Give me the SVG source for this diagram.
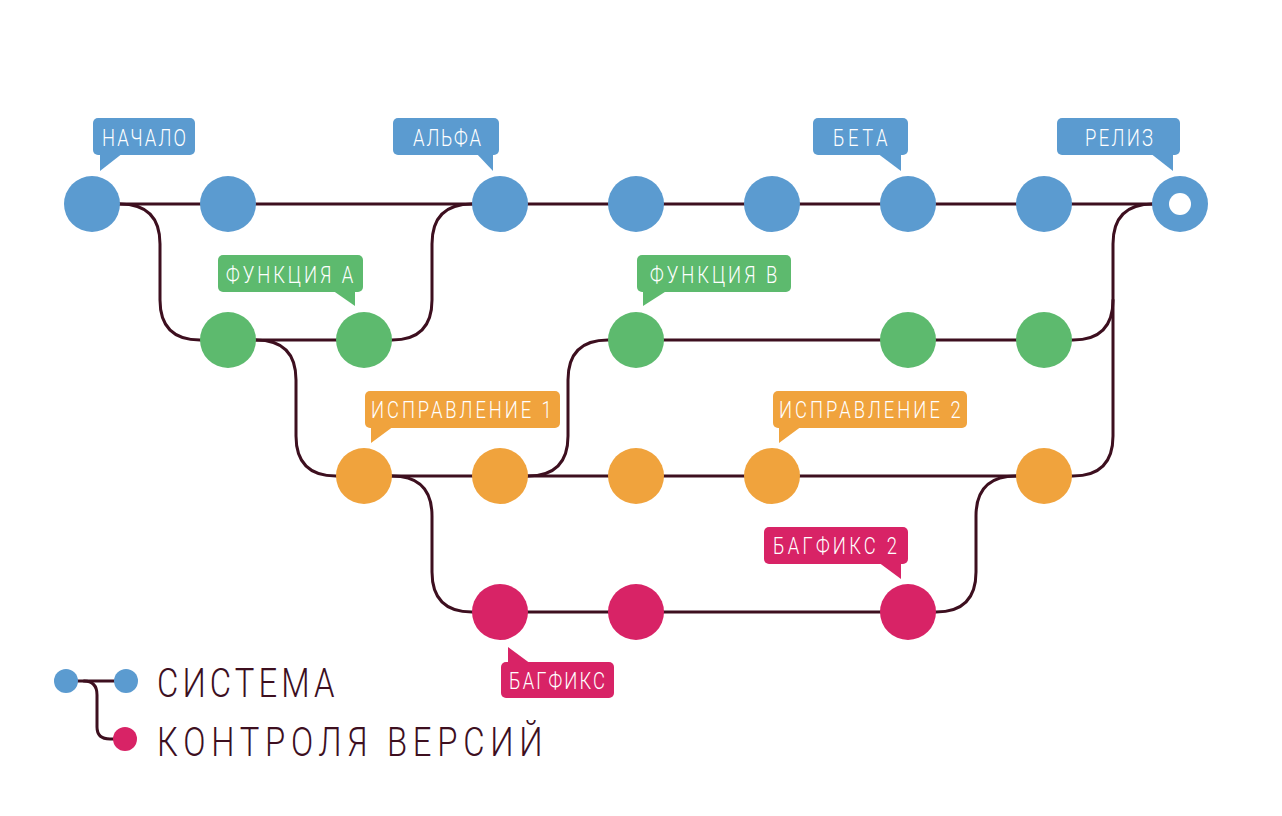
<svg xmlns="http://www.w3.org/2000/svg" width="1282" height="816" viewBox="0 0 1282 816">
<style>
.ln{fill:none;stroke:#3d0f1f;stroke-width:3;stroke-linecap:round}
.b{fill:#5b9bd0}.g{fill:#5dba6e}.o{fill:#f0a33d}.p{fill:#d82366}
.t{font-family:Roboto,"Liberation Sans",sans-serif;font-weight:300;font-size:23px;fill:#ffffff}
.lg{font-family:Roboto,"Liberation Sans",sans-serif;font-weight:300;font-size:41px;fill:#3d0f1f}
</style>
<rect width="1282" height="816" fill="#ffffff"/>
<g id="connectors">
<path class="ln" d="M92,204 H1180"/>
<path class="ln" d="M92,204 H120 Q160,204 160,244 V300 Q160,340 200,340 H364"/>
<path class="ln" d="M364,340 H392 Q432,340 432,300 V244 Q432,204 472,204"/>
<path class="ln" d="M228,340 H256 Q296,340 296,380 V436 Q296,476 336,476 H1044"/>
<path class="ln" d="M364,476 H392 Q432,476 432,516 V572 Q432,612 472,612 H908"/>
<path class="ln" d="M500,476 H528 Q568,476 568,436 V380 Q568,340 608,340 H1044"/>
<path class="ln" d="M908,612 H936 Q976,612 976,572 V516 Q976,476 1016,476"/>
<path class="ln" d="M1044,340 H1073 Q1113,340 1113,300 V244 Q1113,204 1153,204"/>
<path class="ln" d="M1044,476 H1073 Q1113,476 1113,436 V300"/>
</g>
<g id="nodes-blue">
<circle id="n-b1" class="b" cx="92" cy="204" r="28"/>
<circle id="n-b2" class="b" cx="228" cy="204" r="28"/>
<circle id="n-b3" class="b" cx="500" cy="204" r="28"/>
<circle id="n-b4" class="b" cx="636" cy="204" r="28"/>
<circle id="n-b5" class="b" cx="772" cy="204" r="28"/>
<circle id="n-b6" class="b" cx="908" cy="204" r="28"/>
<circle id="n-b7" class="b" cx="1044" cy="204" r="28"/>
<g id="n-release"><circle class="b" cx="1180" cy="204" r="28"/><circle cx="1180" cy="204" r="11" fill="#ffffff"/></g>
</g>
<g id="nodes-green">
<circle id="n-g1" class="g" cx="228" cy="340" r="28"/>
<circle id="n-g2" class="g" cx="364" cy="340" r="28"/>
<circle id="n-g3" class="g" cx="636" cy="340" r="28"/>
<circle id="n-g4" class="g" cx="908" cy="340" r="28"/>
<circle id="n-g5" class="g" cx="1044" cy="340" r="28"/>
</g>
<g id="nodes-orange">
<circle id="n-o1" class="o" cx="364" cy="476" r="28"/>
<circle id="n-o2" class="o" cx="500" cy="476" r="28"/>
<circle id="n-o3" class="o" cx="636" cy="476" r="28"/>
<circle id="n-o4" class="o" cx="772" cy="476" r="28"/>
<circle id="n-o5" class="o" cx="1044" cy="476" r="28"/>
</g>
<g id="nodes-pink">
<circle id="n-p1" class="p" cx="500" cy="612" r="28"/>
<circle id="n-p2" class="p" cx="636" cy="612" r="28"/>
<circle id="n-p3" class="p" cx="908" cy="612" r="28"/>
</g>
<g id="label-nachalo"><rect class="b" x="93" y="118" width="102" height="37" rx="5"/><polygon class="b" points="100,153 100,171 123,153"/><text class="t" transform="translate(102,146) scale(0.8,1)" textLength="105" lengthAdjust="spacing">НАЧАЛО</text></g>
<g id="label-alfa"><rect class="b" x="393" y="118" width="106" height="37" rx="5"/><polygon class="b" points="476,153 493,171 493,153"/><text class="t" transform="translate(413,146) scale(0.8,1)" textLength="85" lengthAdjust="spacing">АЛЬФА</text></g>
<g id="label-beta"><rect class="b" x="813" y="118" width="95" height="37" rx="5"/><polygon class="b" points="877,153 901,171 901,153"/><text class="t" transform="translate(833,146) scale(0.8,1)" textLength="68" lengthAdjust="spacing">БЕТА</text></g>
<g id="label-reliz"><rect class="b" x="1057" y="118" width="123" height="37" rx="5"/><polygon class="b" points="1150,153 1173,171 1173,153"/><text class="t" transform="translate(1085,146) scale(0.8,1)" textLength="85" lengthAdjust="spacing">РЕЛИЗ</text></g>
<g id="label-func-a"><rect class="g" x="218" y="255" width="145" height="37" rx="5"/><polygon class="g" points="332,290 355,306 355,290"/><text class="t" transform="translate(226,283) scale(0.8,1)" textLength="159" lengthAdjust="spacing">ФУНКЦИЯ А</text></g>
<g id="label-func-b"><rect class="g" x="637" y="255" width="154" height="37" rx="5"/><polygon class="g" points="643,290 643,306 668,290"/><text class="t" transform="translate(650,283) scale(0.8,1)" textLength="159" lengthAdjust="spacing">ФУНКЦИЯ В</text></g>
<g id="label-fix1"><rect class="o" x="365" y="391" width="195" height="37" rx="5"/><polygon class="o" points="371,426 371,443 394,426"/><text class="t" transform="translate(371,418) scale(0.8,1)" textLength="226" lengthAdjust="spacing">ИСПРАВЛЕНИЕ 1</text></g>
<g id="label-fix2"><rect class="o" x="773" y="391" width="194" height="37" rx="5"/><polygon class="o" points="779,426 779,443 802,426"/><text class="t" transform="translate(779,418) scale(0.8,1)" textLength="227" lengthAdjust="spacing">ИСПРАВЛЕНИЕ 2</text></g>
<g id="label-bugfix2"><rect class="p" x="764" y="527" width="144" height="37" rx="5"/><polygon class="p" points="878,562 901,579 901,562"/><text class="t" transform="translate(773,554) scale(0.8,1)" textLength="155" lengthAdjust="spacing">БАГФИКС 2</text></g>
<g id="label-bugfix"><rect class="p" x="501" y="662" width="113" height="36" rx="5"/><polygon class="p" points="508,664 508,647 531,664"/><text class="t" transform="translate(509,689) scale(0.8,1)" textLength="120" lengthAdjust="spacing">БАГФИКС</text></g>
<g id="legend">
<path class="ln" d="M66,681 H126"/>
<path class="ln" d="M84,681 Q97,681 97,695 V727 Q97,739 110,739 H125"/>
<circle class="b" cx="66" cy="681" r="12"/>
<circle class="b" cx="126" cy="681" r="12"/>
<circle class="p" cx="125" cy="739" r="12"/>
<text class="lg" transform="translate(157,697) scale(0.8,1)" textLength="222" lengthAdjust="spacing">СИСТЕМА</text>
<text class="lg" transform="translate(157,756) scale(0.8,1)" textLength="482" lengthAdjust="spacing">КОНТРОЛЯ  ВЕРСИЙ</text>
</g>
</svg>
